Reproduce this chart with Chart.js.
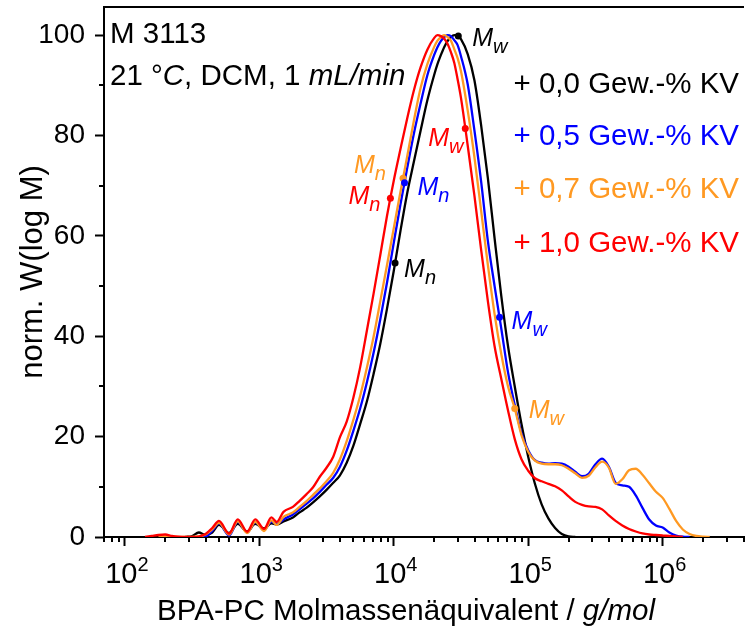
<!DOCTYPE html>
<html>
<head>
<meta charset="utf-8">
<script src="https://cdn.jsdelivr.net/npm/chart.js@4.4.1/dist/chart.umd.min.js"></script>
<style>
html,body{margin:0;padding:0;background:#fff;overflow:hidden}
#c{display:block}
</style>
</head>
<body>
<canvas id="c" width="748" height="628"></canvas>
<script>
// ---- data (log10 of molar mass in g/mol) ----
const logM = [2.15,2.20,2.25,2.30,2.35,2.40,2.45,2.50,2.55,2.60,2.65,2.70,
  2.775,2.84,2.91,2.97,3.035,3.09,3.13,3.18,3.25,
  3.30,3.35,3.40,3.45,3.50,3.55,3.60,3.65,3.70,3.75,3.80,3.85,3.90,3.95,4.00,4.05,4.10,4.15,4.20,4.25,4.30,
  4.325,4.35,4.375,4.40,4.425,4.45,4.475,
  4.50,4.55,4.60,4.65,4.70,4.75,4.80,4.85,4.90,4.95,5.00,5.05,5.10,5.15,5.20,5.25,5.30,5.35,5.40,5.45,
  5.50,5.55,5.60,5.65,5.70,5.75,5.80,5.85,5.90,5.95,6.00,6.05,6.10,6.15,6.20,6.25,6.30,6.35];

const w00 = [null,null,null,null,null,null,0,0.2,0.9,0.4,0.9,2.4,
  0.8,2.6,1.1,2.6,1.7,2.7,2.5,3.1,3.9,
  4.9,5.8,6.9,8.1,9.4,10.8,12.3,14.8,18.2,22.5,27.0,32.5,38.5,45.5,53.0,61.0,68.5,74.8,81.0,87.0,92.0,
  94.2,96.0,97.6,98.8,99.6,100,99.9,
  99.2,96.2,91.0,82.0,71.5,59.5,48.0,38.0,30.0,22.5,16.0,10.6,6.5,3.7,1.8,0.6,0.1,0,null,null,
  null,null,null,null,null,null,null,null,null,null,null,null,null,null,null,null,null,null];

const w05 = [null,null,null,null,null,null,null,null,0,0.1,1.2,2.7,
  0.3,3.0,0.9,2.9,1.4,3.0,2.6,3.5,4.5,
  5.5,6.6,7.7,9.0,10.4,11.8,14.0,17.2,21.2,25.6,30.8,36.7,43.4,50.7,58.6,66.3,73.5,80.4,86.4,92.0,96.0,
  97.6,98.8,99.6,100,99.8,99.0,98.0,
  95.8,90.2,81.0,70.8,59.0,50.0,41.5,32.8,26.3,20.7,17.3,15.3,14.8,14.6,14.7,14.6,14.0,13.0,12.1,12.6,
  14.5,15.6,14.0,10.8,10.3,10.0,8.3,5.8,3.5,2.3,1.9,0.9,0.3,0.05,0,null,null,null];

const w07 = [null,null,0,0.1,0.1,0,0,0,0.1,0.5,1.5,2.8,
  0.5,3.1,0.8,3.0,1.2,3.3,2.4,4.0,4.9,
  6.0,7.1,8.4,9.7,11.1,12.8,15.5,19.1,23.4,28.1,33.7,39.9,47.0,54.2,61.5,68.8,75.8,83.0,89.5,94.2,97.6,
  98.9,99.6,100,99.6,98.9,97.2,95.4,
  92.8,85.0,75.7,65.0,54.2,44.4,36.4,30.0,25.6,20.3,17.0,15.2,14.6,14.5,14.5,14.3,13.6,12.7,11.8,12.2,
  13.9,15.0,13.8,10.6,11.5,13.3,13.6,12.4,10.7,9.0,7.8,5.6,3.2,1.5,0.6,0.2,0.05,0];

const w10 = [0,0.2,0.4,0.5,0.2,0.05,0,0,0.1,0.6,1.8,3.2,
  0.7,3.5,1.05,3.5,1.6,3.9,3.0,5.0,6.0,
  7.2,8.5,9.9,12.0,13.8,16.0,19.9,23.0,27.8,33.8,41.1,48.5,56.2,64.0,71.0,77.3,83.4,89.0,93.6,97.1,99.4,
  100,99.8,99.3,98.3,96.6,94.5,91.2,
  87.5,78.0,68.0,57.2,47.0,38.0,31.5,25.2,19.5,15.5,13.2,11.7,11.1,10.6,10.1,9.3,8.1,7.0,6.4,6.1,
  6.0,5.5,4.3,3.2,2.3,1.6,1.1,0.7,0.5,0.4,0.3,0.2,0.1,0,null,null,null,null];

// series order: 0,0 / 0,5 / 0,7 / 1,0 Gew.-% KV
const seriesLabels = ['+ 0,0 Gew.-% KV', '+ 0,5 Gew.-% KV', '+ 0,7 Gew.-% KV', '+ 1,0 Gew.-% KV'];
const seriesColors = ['#000000', '#0000ff', '#ff9922', '#ff0000'];

// averages (Mn, Mw) marked on each curve
const mnLogM = [4.010, 4.080, 4.069, 3.975];
const mnW    = [54.6, 70.6, 71.5, 67.5];
const mwLogM = [4.480, 4.787, 4.900, 4.532];
const mwW    = [99.8, 43.8, 25.6, 81.4];

// axis ticks
const xDecades = [2, 3, 4, 5, 6];
const yTicks = [0, 20, 40, 60, 80, 100];
const yMinorTicks = [10, 30, 50, 70, 90];

// ---- label layout (pixel offsets of the "M" relative to its dot) ----
const mnOffset = [[9, 14], [13, 12], [-49, -5], [-42, 6]];
const mwOffset = [[14, 10], [12, 12], [14, 9], [-37, 18]];

const FONT = '"Liberation Sans", Arial, sans-serif';

function pts(arr){
  const out = [];
  for (let i = 0; i < logM.length; i++) if (arr[i] !== null) out.push({x: Math.pow(10, logM[i]), y: arr[i]});
  return out;
}
const curves = [w00, w05, w07, w10];
const datasets = [];
curves.forEach((c, i) => {
  datasets.push({
    label: seriesLabels[i], data: pts(c), borderColor: seriesColors[i], borderWidth: 2.3,
    pointRadius: 0, fill: false, cubicInterpolationMode: 'monotone', order: 4 - i
  });
});
curves.forEach((c, i) => {
  datasets.push({
    label: 'avg' + i,
    data: [{x: Math.pow(10, mnLogM[i]), y: mnW[i]}, {x: Math.pow(10, mwLogM[i]), y: mwW[i]}],
    showLine: false, pointRadius: 3.5, pointBackgroundColor: seriesColors[i], pointBorderWidth: 0,
    borderColor: seriesColors[i], order: 0
  });
});

const decorPlugin = {
  id: 'decor',
  afterDraw(chart){
    const ctx = chart.ctx, a = chart.chartArea, xs = chart.scales.x, ys = chart.scales.y;
    ctx.save();
    ctx.strokeStyle = '#000'; ctx.lineWidth = 2;
    // top frame line
    ctx.beginPath(); ctx.moveTo(a.left - 1, a.top); ctx.lineTo(a.right, a.top); ctx.stroke();
    // minor ticks
    for (let d = 1; d <= 6; d++) {
      for (let k = 2; k <= 9; k++) {
        const v = k * Math.pow(10, d);
        if (v < xs.min || v > xs.max) continue;
        const px = Math.round(xs.getPixelForValue(v));
        ctx.beginPath(); ctx.moveTo(px, a.bottom); ctx.lineTo(px, a.bottom + 5); ctx.stroke();
      }
    }
    yMinorTicks.forEach(v => {
      const py = Math.round(ys.getPixelForValue(v));
      ctx.beginPath(); ctx.moveTo(a.left, py); ctx.lineTo(a.left - 5, py); ctx.stroke();
    });

    function runs(parts, x, y, align){
      let total = 0;
      parts.forEach(p => { ctx.font = p[1]; total += ctx.measureText(p[0]).width; });
      let cx = align === 'center' ? x - total / 2 : (align === 'right' ? x - total : x);
      ctx.textAlign = 'left';
      parts.forEach(p => { ctx.font = p[1]; ctx.fillText(p[0], cx, y + (p[2] || 0)); cx += ctx.measureText(p[0]).width; });
    }
    const N = '29.5px ' + FONT, I = 'italic 29.5px ' + FONT;
    ctx.textBaseline = 'alphabetic';
    ctx.fillStyle = '#000';

    // x tick labels 10^n
    xDecades.forEach(d => {
      const px = xs.getPixelForValue(Math.pow(10, d));
      runs([['10', '29px ' + FONT], [String(d), '20px ' + FONT, -12]], px + 2, a.bottom + 46, 'center');
    });

    runs([['M 3113', N]], a.left + 6, a.top + 36, 'left');
    runs([['21 \u00B0', N], ['C', I], [', DCM, 1 ', N], ['mL/min', I]], a.left + 6, a.top + 78, 'left');

    // legend text
    const legY = [93, 145, 198, 252];
    seriesLabels.forEach((t, i) => {
      ctx.fillStyle = seriesColors[i];
      runs([[t, N]], 739, legY[i], 'right');
    });

    // Mn / Mw labels
    function mlabel(x, y, sub, color){
      ctx.fillStyle = color;
      ctx.textAlign = 'left';
      ctx.font = 'italic 25px ' + FONT;
      ctx.fillText('M', x, y);
      const w = ctx.measureText('M').width;
      ctx.font = 'italic 20px ' + FONT;
      ctx.fillText(sub, x + w, y + 7);
    }
    for (let i = 0; i < 4; i++) {
      const nx = xs.getPixelForValue(Math.pow(10, mnLogM[i])), ny = ys.getPixelForValue(mnW[i]);
      mlabel(nx + mnOffset[i][0], ny + mnOffset[i][1], 'n', seriesColors[i]);
      const wx = xs.getPixelForValue(Math.pow(10, mwLogM[i])), wy = ys.getPixelForValue(mwW[i]);
      mlabel(wx + mwOffset[i][0], wy + mwOffset[i][1], 'w', seriesColors[i]);
    }

    // axis titles
    ctx.fillStyle = '#000';
    runs([['BPA-PC Molmassen\u00E4quivalent / ', N], ['g/mol', I]], 406, 620, 'center');
    ctx.save();
    ctx.translate(33, (a.top + a.bottom) / 2);
    ctx.rotate(-Math.PI / 2);
    ctx.textBaseline = 'middle';
    ctx.font = '31px ' + FONT; ctx.textAlign = 'center';
    ctx.fillText('norm. W(log M)', 0, 0);
    ctx.restore();
    ctx.restore();
  }
};

new Chart(document.getElementById('c'), {
  type: 'line',
  data: { datasets },
  options: {
    responsive: false, animation: false, devicePixelRatio: 1,
    layout: { padding: { top: 7, left: 0, right: 0, bottom: 0 } },
    plugins: { legend: { display: false }, tooltip: { enabled: false } },
    scales: {
      x: {
        type: 'logarithmic', position: 'bottom',
        min: Math.pow(10, 1.845), max: Math.pow(10, 6.605),
        afterBuildTicks: s => { s.ticks = xDecades.map(d => ({ value: Math.pow(10, d) })); },
        afterFit: s => { s.height = 91; s.paddingLeft = 0; s.paddingRight = 0; },
        ticks: { display: false, autoSkip: false, maxRotation: 0, minRotation: 0 },
        grid: { drawOnChartArea: false, drawTicks: true, tickLength: 9, tickWidth: 2, tickColor: '#000', color: '#000' },
        border: { display: true, color: '#000', width: 2 }
      },
      y: {
        type: 'linear', position: 'left', min: 0, max: 105.6,
        afterBuildTicks: s => { s.ticks = yTicks.map(v => ({ value: v })); },
        afterFit: s => { s.width = 104; s.paddingTop = 0; s.paddingBottom = 0; },
        ticks: { padding: 10, color: '#000', font: { family: FONT, size: 28 }, callback: v => String(v) },
        grid: { drawOnChartArea: false, drawTicks: true, tickLength: 9, tickWidth: 2, tickColor: '#000', color: '#000' },
        border: { display: true, color: '#000', width: 2 }
      }
    }
  },
  plugins: [decorPlugin]
});
</script>
</body>
</html>
